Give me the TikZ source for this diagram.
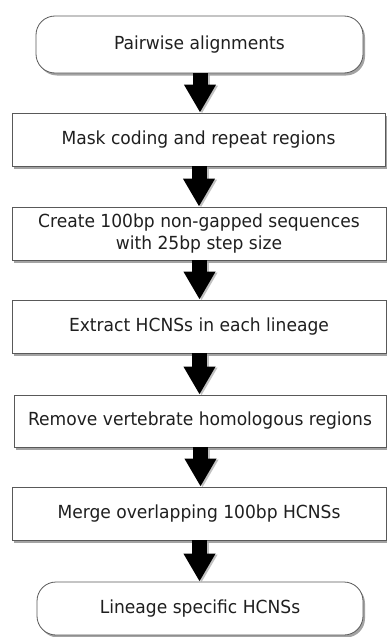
\documentclass[tikz,border=0pt]{standalone}
\usepackage{fontspec}
\setmainfont[FakeStretch=0.95]{DejaVu Sans}
\usetikzlibrary{arrows.meta,shadows}

\tikzset{
  stepbox/.style={draw=black!65, line width=0.8pt, fill=white,
    text=black!88, font=\fontsize{18}{21.5}\selectfont, align=center,
    inner sep=0pt,
    drop shadow={shadow xshift=2pt, shadow yshift=-2.5pt, fill=black!45, opacity=0.8}},
  endbox/.style={stepbox, rounded corners=19pt},
  flowarrow/.style={line width=15pt, line cap=butt, draw=black,
    -{Triangle[width=30pt,length=28pt]}},
  flowshadow/.style={flowarrow, draw=black!35, opacity=0.7},
}

\begin{document}
\begin{tikzpicture}[x=1pt, y=-1pt]
  \useasboundingbox (0,0) rectangle (387,637);

  % the seven stages of the pipeline
  \node[endbox,  minimum width=327pt, minimum height=57pt] (s1) at (199.5,44.5) {Pairwise alignments};
  \node[stepbox, minimum width=373pt, minimum height=53pt] (s2) at (198.5,139.5) {Mask coding and repeat regions};
  \node[stepbox, minimum width=374pt, minimum height=53pt] (s3) at (199,233.5) {Create 100bp non-gapped sequences\\with 25bp step size};
  \node[stepbox, minimum width=374pt, minimum height=53pt] (s4) at (199,326.5) {Extract HCNSs in each lineage};
  \node[stepbox, minimum width=372pt, minimum height=52pt] (s5) at (200,421) {Remove vertebrate homologous regions};
  \node[stepbox, minimum width=374pt, minimum height=53pt] (s6) at (199,513.5) {Merge overlapping 100bp HCNSs};
  \node[endbox,  minimum width=326pt, minimum height=53pt] (s7) at (200,608.5) {Lineage specific HCNSs};

  % thick block arrows between consecutive stages, each with a soft shadow
  \foreach \a/\b in {s1/s2, s2/s3, s3/s4, s4/s5, s5/s6, s6/s7} {
    \draw[flowshadow, transform canvas={xshift=2pt, yshift=-1pt}]
      ([xshift=0.5pt]\a.south) -- ([xshift=0.5pt]\a.south |- \b.north);
    \draw[flowarrow] ([xshift=0.5pt]\a.south) -- ([xshift=0.5pt]\a.south |- \b.north);
  }
\end{tikzpicture}
\end{document}
